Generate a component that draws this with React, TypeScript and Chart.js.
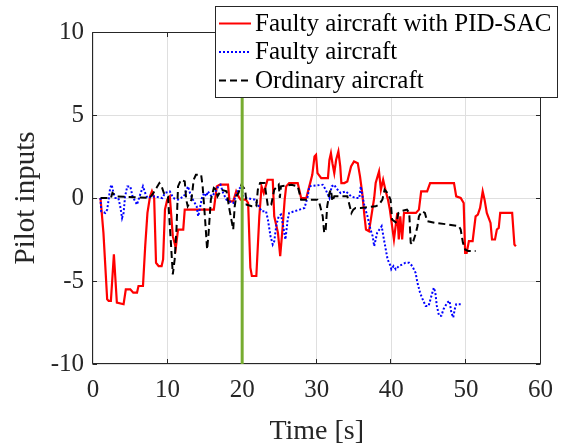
import React, { useEffect, useRef } from "react";
import { Chart, registerables } from "chart.js";

Chart.register(...registerables);

// ---- Data ----
const pidTime = [
  1.0, 1.1, 1.4, 1.9, 2.1, 2.4, 2.8, 3.2, 4.1, 4.4, 5.0, 5.4, 5.9, 6.1, 6.7, 7.0, 7.3, 7.65, 7.9, 8.2,
  8.45, 8.8, 9.2, 9.4, 9.65, 9.95, 10.3, 10.7, 11.1, 11.4, 12.1, 12.3, 16.2, 16.6, 17.0, 18.1, 18.3, 18.8,
  19.2, 19.5, 19.8, 20.5, 20.8, 21.1, 21.3, 21.9, 22.3, 22.6, 22.9, 23.4, 24.1, 24.3, 24.8, 25.1, 25.4,
  25.7, 25.9, 26.3, 27.45, 27.9, 28.6, 29.0, 29.4, 29.7, 29.9, 30.1, 30.6, 31.5, 31.7, 31.9, 32.1, 32.35,
  32.6, 32.9, 33.15, 33.3, 33.7, 34.1, 34.6, 35.0, 35.5, 35.8, 36.1, 36.4, 36.6, 37.0, 37.25, 37.7, 37.9,
  38.35, 38.6, 38.9, 39.25, 39.55, 39.8, 40.35, 40.8, 41.0, 41.2, 41.45, 41.7, 43.3, 43.7, 44.0, 44.8,
  45.2, 48.4, 48.7, 49.3, 49.7, 49.9, 50.1, 50.4, 50.9, 51.3, 51.6, 51.9, 52.25, 52.5, 52.8, 53.3, 53.5,
  53.9, 54.15, 54.4, 54.6, 56.2, 56.5, 56.7,
];
const pidValues = [
  0, -0.5, -2.1, -6.1, -6.2, -6.2, -3.4, -6.3, -6.4, -5.5, -5.5, -5.7, -5.7, -5.3, -5.3, -2.9, -0.9, 0.1, 0.4, 0,
  -3.9, -4.1, -4.1, -3.7, -0.7, -0.1, 0.1, -2.3, -3.0, -1.9, -1.9, -0.7, -0.7, 0.7, 0.8, 0.8, -0.2, -0.2,
  0.4, 0.1, -0.1, -0.1, -0.3, -4.2, -4.7, -4.7, -1.1, 0.7, 0.3, 1.1, 1.1, -1.1, -2.1, -3.5, -1.9,
  -0.1, 0.7, 0.9, 0.9, 0, 0, 0.7, 1.4, 2.5, 2.6, 1.5, 1.2, 1.2, 2.3, 2.7, 2.1, 1.5,
  2.3, 2.8, 1.9, 0.9, 0.9, 1.0, 1.9, 2.2, 2.1, 1.3, 0.3, -1.1, -1.9, -2.0, -1.3, 0, 0.9,
  1.6, 0.5, 1.1, 0.4, -0.1, -0.7, -2.5, -0.9, -2.5, -1.1, -2.5, -0.9, -0.9, -0.7, 0.4, 0.4,
  0.9, 0.9, 0.1, 0, -0.3, -3.3, -3.3, -2.6, -2.6, -1.1, -1.0, -0.6, 0.4, -0.1, -0.9, -1.5, -2.5,
  -2.5, -1.9, -1.8, -0.9, -0.9, -2.8, -2.9,
];

const faultyTime = [
  1.0, 1.1, 1.65, 1.9, 2.1, 2.3, 2.5, 2.75, 3.0, 3.4, 3.65, 3.9, 4.1, 4.3, 4.6, 5.0, 5.3, 5.9, 6.1, 6.4,
  6.7, 7.0, 7.3, 8.2, 9.3, 9.65, 10.3, 10.75, 11.4, 12.2, 12.75, 13.0, 13.4, 13.9, 14.1, 14.3, 14.6, 14.9,
  15.2, 15.4, 15.9, 16.3, 16.8, 17.1, 17.45, 17.9, 18.3, 18.8, 19.2, 19.5, 19.9, 20.1, 20.6, 21.7, 22.1,
  22.6, 23.2, 23.45, 23.8, 24.1, 24.3, 24.6, 24.9, 25.2, 25.5, 25.8, 26.1, 26.3, 27.0, 27.7, 28.35, 28.8,
  29.0, 30.8, 31.2, 31.4, 31.7, 32.0, 32.35, 32.6, 33.2, 33.9, 34.6, 35.2, 35.7, 35.9, 36.1, 36.4, 36.8,
  37.2, 37.5, 37.7, 38.1, 38.7, 39.05, 39.5, 39.9, 40.0, 40.3, 40.6, 41.0, 41.5, 41.9, 42.4, 42.8, 43.25,
  43.5, 43.85, 44.1, 44.4, 44.6, 45.0, 45.5, 45.7, 45.9, 46.1, 46.4, 46.7, 47.0, 47.5, 47.8, 48.05, 48.3,
  48.5, 48.7, 49.3,
];
const faultyValues = [
  0, -0.8, -0.9, -0.7, -0.1, 0.6, 0.8, 0.3, 0, 0, -0.5, -1.2, -0.9, 0.1, 0.7, 0.7, 0.1, -0.4, -0.1, 0.3,
  0.7, 0.3, 0, 0.1, 0, 0.3, 0.4, 0, -0.1, 0.1, 0.7, 0.3, -0.1, -0.5, -1.1, -0.7, 0, 0.3,
  0.1, 0.4, 0.1, 0.3, 0.7, 0.8, 0.3, -0.1, -0.2, -0.3, 0.2, 0.5, 0.7, 0.1, 0, -0.1, -0.4,
  -0.8, -0.8, -1.3, -2.3, -2.8, -2.6, -1.6, -1.1, -1.0, -1.7, -2.5, -1.3, -0.9, -0.8, -0.7, -0.6, 0.1,
  0.7, 0.8, 0.5, 0.3, 0, 0.7, 0.8, 0.6, 0.3, 0.4, 0.1, 0, 0, 0.7, 0.2, -0.5, -1.1,
  -1.9, -2.3, -2.9, -2.1, -1.7, -2.6, -3.7, -4.1, -4.3, -4.1, -4.3, -4.1, -4.0, -3.9, -3.9, -4.1, -4.5,
  -5.1, -5.7, -6.0, -6.3, -6.5, -6.5, -5.7, -5.4, -5.7, -6.5, -7.1, -7.1, -6.7, -6.3, -6.2, -6.9, -7.2,
  -6.7, -6.4, -6.4,
];

const ordinaryTime = [
  1.0, 2.4, 2.6, 3.2, 7.6, 8.1, 8.5, 8.9, 9.2, 9.5, 10.05, 10.5, 10.7, 10.95, 11.2, 11.4, 11.8, 12.3,
  12.5, 12.7, 13.2, 13.5, 13.8, 14.5, 14.7, 15.0, 15.3, 15.5, 15.8, 16.2, 16.5, 16.7, 17.2, 17.9, 18.3,
  18.8, 19.0, 19.2, 19.5, 19.9, 20.4, 20.6, 21.3, 21.9, 22.1, 22.4, 23.0, 23.45, 23.9, 24.3, 24.9, 25.05,
  25.2, 26.6, 27.45, 27.9, 30.1, 30.35, 30.8, 31.0, 31.2, 31.4, 31.7, 31.9, 32.1, 32.35, 34.1, 34.65,
  34.9, 35.2, 35.9, 37.9, 38.35, 38.8, 39.1, 39.5, 39.9, 40.1, 40.7, 40.95, 41.25, 42.1, 42.4, 42.6,
  42.8, 43.3, 43.5, 43.7, 44.1, 44.5, 44.8, 45.9, 47.7, 49.05, 49.3, 49.6, 49.9, 50.3, 51.3,
];
const ordinaryValues = [
  0, 0, 0.3, 0.1, 0, 0.3, 0.6, 0.9, 0.7, 0.3, 0.1, -3.1, -4.6, -3.7, -1.8, 0.7, 1.1, 1.0,
  -0.1, -0.5, -0.1, 1.1, 1.4, 1.4, 0.7, -1.1, -3.1, -2.1, -0.1, 0.6, 0.5, 0.1, 0.5, 0.4, -0.7,
  -1.9, -0.5, 0.1, 0.3, 0.8, 0.5, -0.4, -0.5, -0.5, 0.5, 0.9, 0.9, -0.5, -0.4, 0.5, 0.8, 0.0,
  0.7, 0.8, 0.7, -0.1, -0.1, -0.3, -1.1, -2.1, -1.9, -0.5, 0.3, 0.5, -0.2, 0.1, 0.1, -0.9,
  -0.7, -0.6, -0.6, -0.5, -0.4, -0.1, 0.5, 0.3, -0.1, -1.3, -1.5, -0.9, -0.8, -0.7, -0.9, -2.7,
  -2.8, -2.1, -1.7, -1.1, -0.8, -0.9, -1.4, -1.5, -1.6, -1.7, -1.9, -2.7, -3.1, -3.2, -3.2,
];

const faultMarkTime = [20, 20];
const faultMarkValues = [-10, 10];

const xMin = 0;
const xMax = 60;
const xStep = 10;
const yMin = -10;
const yMax = 10;
const yStep = 5;

const xTitle = "Time [s]";
const yTitle = "Pilot inputs";
const legendLabels = ["Faulty aircraft with PID-SAC", "Faulty aircraft", "Ordinary aircraft"];

const FONT = "'Liberation Serif', 'Times New Roman', serif";
const AXIS_COLOR = "#262626";

const toPoints = (xs: number[], ys: number[]) => xs.map((x, i) => ({ x, y: ys[i] }));

const framePlugin = {
  id: "frame",
  beforeDatasetsDraw(chart: any) {
    const { ctx, chartArea, scales } = chart;
    const { left, right, top, bottom } = chartArea;
    const L = Math.round(left) - 0.5;
    const R = Math.round(right) - 0.5;
    const T = Math.round(top) + 0.5;
    const B = Math.round(bottom) - 0.5;
    ctx.save();
    ctx.strokeStyle = AXIS_COLOR;
    ctx.lineWidth = 1;
    ctx.beginPath();
    ctx.moveTo(L, T);
    ctx.lineTo(R, T);
    ctx.lineTo(R, B);
    ctx.lineTo(L, B);
    ctx.closePath();
    ctx.stroke();
    const tl = 4.5;
    ctx.beginPath();
    scales.x.ticks.forEach((t: any) => {
      const px = Math.round(scales.x.getPixelForValue(t.value)) - 0.5;
      ctx.moveTo(px, B);
      ctx.lineTo(px, B - tl);
      ctx.moveTo(px, T);
      ctx.lineTo(px, T + tl);
    });
    scales.y.ticks.forEach((t: any) => {
      const py = Math.round(scales.y.getPixelForValue(t.value)) + 0.5;
      ctx.moveTo(L, py);
      ctx.lineTo(L + tl, py);
      ctx.moveTo(R, py);
      ctx.lineTo(R - tl, py);
    });
    ctx.stroke();
    ctx.restore();
  },
};

const legendPlugin = {
  id: "customLegend",
  afterDraw(chart: any) {
    const { ctx } = chart;
    const bx = 215.5;
    const by = 6.5;
    const bw = 342;
    const bh = 91;
    ctx.save();
    ctx.fillStyle = "#ffffff";
    ctx.fillRect(bx, by, bw, bh);
    ctx.strokeStyle = AXIS_COLOR;
    ctx.lineWidth = 1;
    ctx.strokeRect(bx, by, bw, bh);
    const rows = [23.5, 52, 80.5];
    const styles = [
      { color: "#ff0000", dash: [] as number[] },
      { color: "#0000ff", dash: [2, 2] },
      { color: "#000000", dash: [7, 4] },
    ];
    rows.forEach((ry, i) => {
      ctx.beginPath();
      ctx.strokeStyle = styles[i].color;
      ctx.lineWidth = 2;
      ctx.setLineDash(styles[i].dash);
      ctx.moveTo(219, ry);
      ctx.lineTo(251, ry);
      ctx.stroke();
      ctx.setLineDash([]);
      ctx.fillStyle = "#000000";
      ctx.font = `25px ${FONT}`;
      ctx.textAlign = "left";
      ctx.textBaseline = "alphabetic";
      ctx.fillText(legendLabels[i], 255, ry + 7);
    });
    ctx.restore();
  },
};

export default function App() {
  const canvasRef = useRef<HTMLCanvasElement | null>(null);

  useEffect(() => {
    if (!canvasRef.current) return;
    const chart = new Chart(canvasRef.current, {
      type: "line",
      data: {
        datasets: [
          {
            label: "Fault",
            data: toPoints(faultMarkTime, faultMarkValues),
            borderColor: "#77AC30",
            borderWidth: 3,
            pointRadius: 0,
            order: 0,
          },
          {
            label: legendLabels[2],
            data: toPoints(ordinaryTime, ordinaryValues),
            borderColor: "#000000",
            borderWidth: 2,
            borderDash: [7, 4],
            pointRadius: 0,
            order: 1,
          },
          {
            label: legendLabels[1],
            data: toPoints(faultyTime, faultyValues),
            borderColor: "#0000ff",
            borderWidth: 2,
            borderDash: [2, 2],
            pointRadius: 0,
            order: 2,
          },
          {
            label: legendLabels[0],
            data: toPoints(pidTime, pidValues),
            borderColor: "#ff0000",
            borderWidth: 2.2,
            pointRadius: 0,
            order: 3,
          },
        ] as any,
      },
      options: {
        animation: false,
        responsive: false,
        devicePixelRatio: 1,
        layout: { padding: { top: 32, right: 22, left: 0, bottom: 0 } },
        plugins: { legend: { display: false }, tooltip: { enabled: false } },
        elements: { line: { tension: 0 } },
        scales: {
          x: {
            type: "linear",
            min: xMin,
            max: xMax,
            afterFit: (s: any) => {
              s.height = 81;
            },
            ticks: {
              stepSize: xStep,
              autoSkip: false,
              maxRotation: 0,
              padding: 11,
              color: AXIS_COLOR,
              font: { family: FONT, size: 25, lineHeight: 1.2 },
              callback: (v: any) => String(v),
            },
            grid: { color: "#dfdfdf", drawTicks: false },
            border: { display: false },
            title: {
              display: true,
              text: xTitle,
              color: AXIS_COLOR,
              font: { family: FONT, size: 28, lineHeight: 1.0 },
              padding: { top: 0, bottom: -1 },
            },
          },
          y: {
            type: "linear",
            min: yMin,
            max: yMax,
            afterFit: (s: any) => {
              s.width = 93;
            },
            ticks: {
              stepSize: yStep,
              autoSkip: false,
              padding: 9,
              color: AXIS_COLOR,
              font: { family: FONT, size: 25, lineHeight: 1.2 },
              callback: (v: any) => String(v),
            },
            grid: { color: "#dfdfdf", drawTicks: false },
            border: { display: false },
            title: {
              display: true,
              text: yTitle,
              color: AXIS_COLOR,
              font: { family: FONT, size: 29, lineHeight: 1.0 },
              padding: { top: 12, bottom: 0 },
            },
          },
        },
      } as any,
      plugins: [framePlugin, legendPlugin],
    });
    return () => chart.destroy();
  }, []);

  return (
    <div style={{ position: "absolute", left: 0, top: 0, width: 564, height: 445, background: "#fff" }}>
      <canvas ref={canvasRef} width={564} height={445} style={{ width: 564, height: 445, display: "block" }} />
    </div>
  );
}
